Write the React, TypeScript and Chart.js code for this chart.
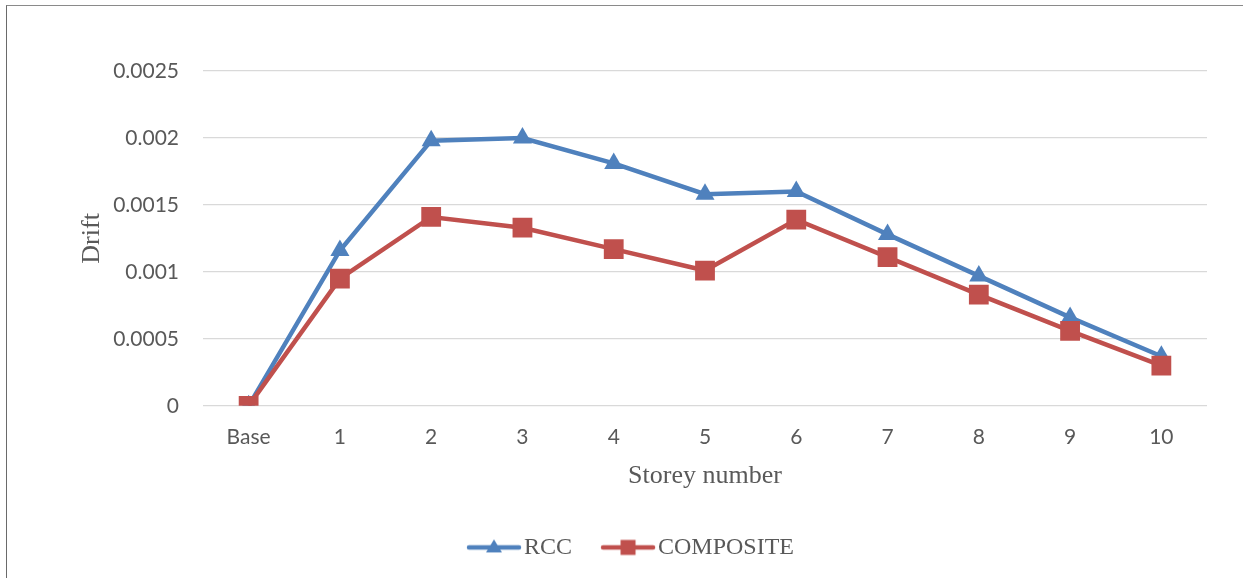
import React, { useEffect, useRef } from "react";
import { Chart, registerables } from "chart.js";

Chart.register(...registerables);

const categories = ["Base", "1", "2", "3", "4", "5", "6", "7", "8", "9", "10"];
const rccValues = [0, 0.00116, 0.00198, 0.002, 0.00181, 0.00158, 0.0016, 0.00128, 0.00097, 0.00066, 0.00037];
const compositeValues = [0, 0.00095, 0.00141, 0.00133, 0.00117, 0.00101, 0.00139, 0.00111, 0.00083, 0.00056, 0.0003];
const seriesNames = ["RCC", "COMPOSITE"];
const yTickValues = [0, 0.0005, 0.001, 0.0015, 0.002, 0.0025];

const BLUE = "#4F81BD";
const RED = "#C0504D";
const TEXT = "#595959";

function makeLegendImage(color: string, marker: "triangle" | "square") {
  const c = document.createElement("canvas");
  c.width = 56;
  c.height = 22;
  const ctx = c.getContext("2d")!;
  ctx.strokeStyle = color;
  ctx.lineWidth = 4.5;
  ctx.lineCap = "round";
  ctx.beginPath();
  ctx.moveTo(3, 11);
  ctx.lineTo(53, 11);
  ctx.stroke();
  ctx.fillStyle = color;
  if (marker === "triangle") {
    ctx.beginPath();
    ctx.moveTo(28, 3);
    ctx.lineTo(36, 16);
    ctx.lineTo(20, 16);
    ctx.closePath();
    ctx.fill();
  } else {
    ctx.fillRect(20.5, 3.5, 15, 15);
  }
  return c;
}

export default function App() {
  const ref = useRef<HTMLCanvasElement | null>(null);

  useEffect(() => {
    if (!ref.current) return;
    const imgs = [makeLegendImage(BLUE, "triangle"), makeLegendImage(RED, "square")];
    const chart = new Chart(ref.current, {
      type: "line",
      data: {
        labels: categories,
        datasets: [
          {
            label: seriesNames[0],
            data: rccValues,
            borderColor: BLUE,
            backgroundColor: BLUE,
            borderWidth: 4.5,
            pointStyle: "triangle",
            pointRadius: 11,
            pointHoverRadius: 11,
            pointBorderWidth: 0,
            tension: 0,
            order: 2,
          },
          {
            label: seriesNames[1],
            data: compositeValues,
            borderColor: RED,
            backgroundColor: RED,
            borderWidth: 4.5,
            pointStyle: "rect",
            pointRadius: 14,
            pointHoverRadius: 14,
            pointBorderWidth: 0,
            tension: 0,
            order: 1,
          },
        ],
      },
      options: {
        responsive: false,
        animation: false,
        layout: { padding: { left: 63, top: 71, right: 36, bottom: 8.6 } },
        plugins: {
          tooltip: { enabled: false },
          legend: {
            position: "bottom",
            labels: {
              usePointStyle: true,
              pointStyleWidth: 36,
              padding: 38,
              color: TEXT,
              font: { family: "'Liberation Serif', 'Times New Roman', serif", size: 24 },
              generateLabels: (ch: any) => {
                const items = Chart.defaults.plugins.legend.labels.generateLabels(ch);
                items.sort((a: any, b: any) => a.datasetIndex - b.datasetIndex);
                items.forEach((it: any) => {
                  it.pointStyle = imgs[it.datasetIndex];
                });
                return items;
              },
            },
          },
        },
        scales: {
          x: {
            type: "category",
            offset: true,
            grid: { display: false, drawTicks: false },
            border: { display: false },
            ticks: {
              color: TEXT,
              padding: 19,
              font: { family: "Lato, 'Open Sans', sans-serif", size: 21 },
            },
            title: {
              display: true,
              text: "Storey number",
              color: TEXT,
              font: { family: "'Liberation Serif', 'Times New Roman', serif", size: 26, lineHeight: 1 },
              padding: { top: 0, bottom: 8.6 },
            },
            afterFit: (s: any) => {
              s.height = 91.6;
            },
          },
          y: {
            min: 0,
            max: 0.0025,
            afterBuildTicks: (s: any) => {
              s.ticks = yTickValues.map((v) => ({ value: v }));
            },
            grid: { color: "#D9D9D9", lineWidth: 1.3, drawTicks: false },
            border: { display: false },
            ticks: {
              color: TEXT,
              padding: 24,
              font: { family: "Lato, 'Open Sans', sans-serif", size: 21 },
              callback: (v: any) => String(+Number(v).toFixed(6)),
            },
            title: {
              display: true,
              text: "Drift",
              color: TEXT,
              font: { family: "'Liberation Serif', 'Times New Roman', serif", size: 26, lineHeight: 1 },
              padding: { top: 16, bottom: 0 },
            },
            afterFit: (s: any) => {
              s.width = 140;
            },
          },
        },
      },
    });
    return () => chart.destroy();
  }, []);

  return (
    <div style={{ position: "fixed", left: 0, top: 0, width: 1243, height: 578, background: "#fff" }}>
      <canvas ref={ref} width={1243} height={578} style={{ position: "absolute", left: 0, top: 0 }} />
      <div
        style={{
          position: "absolute",
          left: 6,
          top: 5,
          width: 1250,
          height: 590,
          borderLeft: "1.5px solid #6a6a6a",
          borderTop: "1.5px solid #8a8a8a",
          pointerEvents: "none",
        }}
      />
    </div>
  );
}
